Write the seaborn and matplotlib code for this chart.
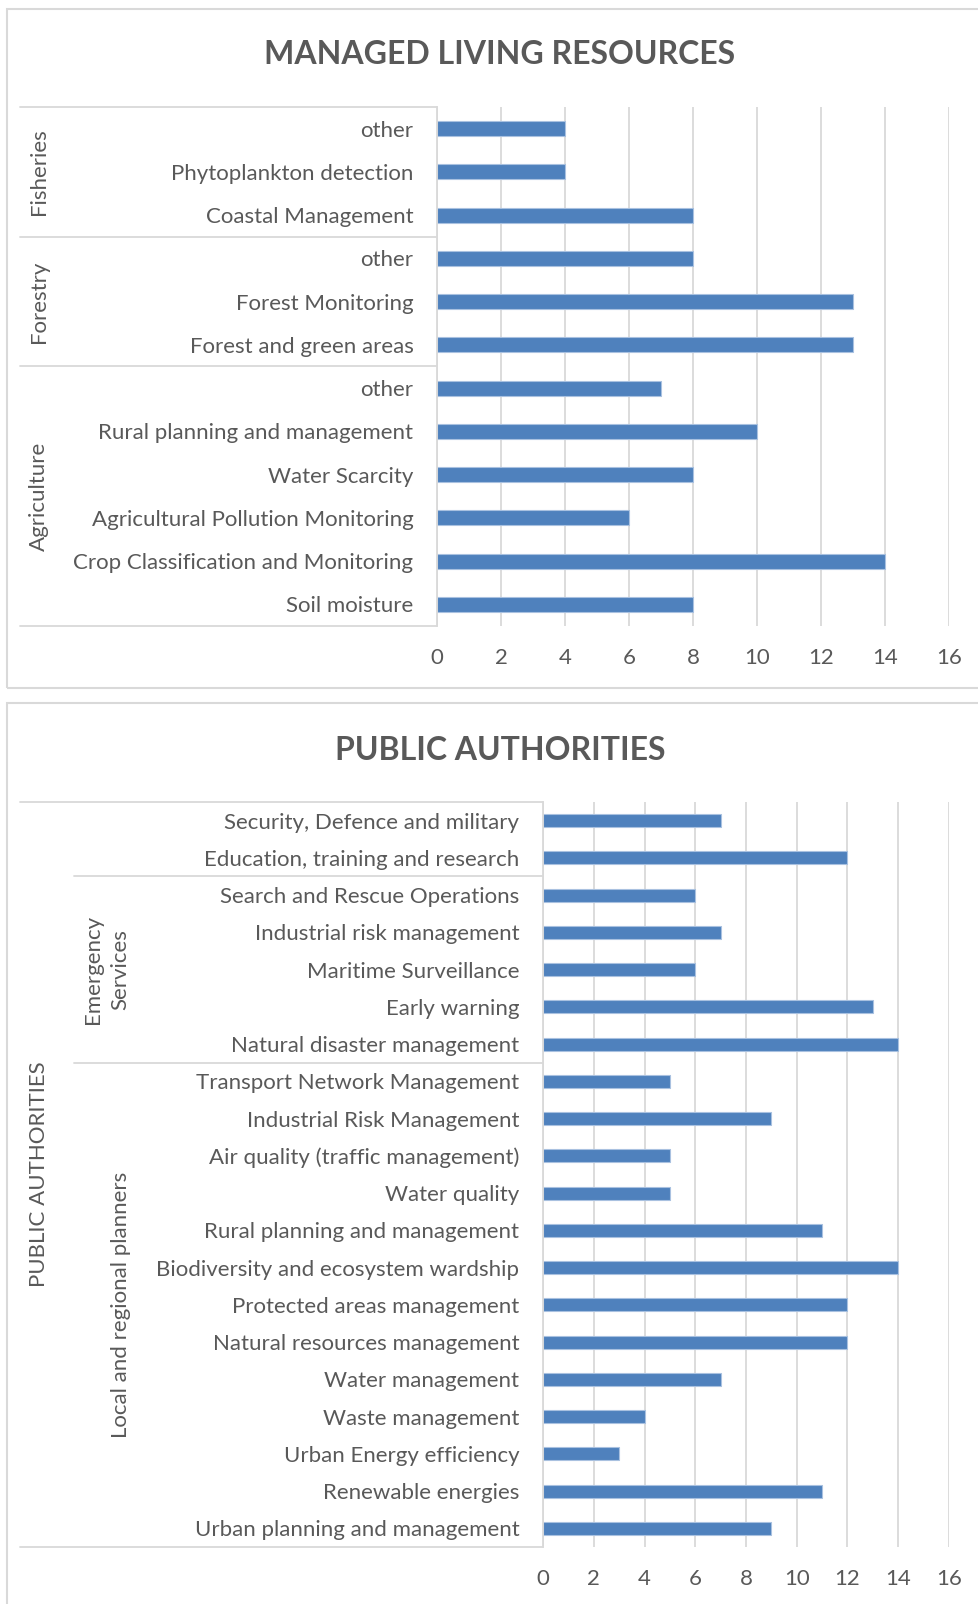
import seaborn as sns
import pandas as pd
import numpy as np
import matplotlib.pyplot as plt
from matplotlib.patches import Rectangle
from matplotlib.lines import Line2D
from matplotlib.transforms import blended_transform_factory

# managed living resources chart (top to bottom)
mlr_groups = ['Fisheries', 'Fisheries', 'Fisheries',
              'Forestry', 'Forestry', 'Forestry',
              'Agriculture', 'Agriculture', 'Agriculture',
              'Agriculture', 'Agriculture', 'Agriculture']
mlr_labels = ['other', 'Phytoplankton detection', 'Coastal Management',
              'other', 'Forest Monitoring', 'Forest and green areas',
              'other', 'Rural planning and management', 'Water Scarcity',
              'Agricultural Pollution Monitoring', 'Crop Classification and Monitoring',
              'Soil moisture']
mlr_values = [4, 4, 8, 8, 13, 13, 7, 10, 8, 6, 14, 8]

# public authorities chart (top to bottom)
pa_groups = ['', '',
             'Emergency\nServices', 'Emergency\nServices', 'Emergency\nServices',
             'Emergency\nServices', 'Emergency\nServices'] + ['Local and regional planners'] * 13
pa_labels = ['Security, Defence and military', 'Education, training and research',
             'Search and Rescue Operations', 'Industrial risk management',
             'Maritime Surveillance', 'Early warning', 'Natural disaster management',
             'Transport Network Management', 'Industrial Risk Management',
             'Air quality (traffic management)', 'Water quality',
             'Rural planning and management', 'Biodiversity and ecosystem wardship',
             'Protected areas management', 'Natural resources management',
             'Water management', 'Waste management', 'Urban Energy efficiency',
             'Renewable energies', 'Urban planning and management']
pa_values = [7, 12, 6, 7, 6, 13, 14, 5, 9, 5, 5, 11, 14, 12, 12, 7, 4, 3, 11, 9]

xticks = [0, 2, 4, 6, 8, 10, 12, 14, 16]

BLUE = '#4F81BD'
GREY = '#d9d9d9'
TXT = '#595959'

sns.set_theme(style='white')
plt.rcParams['font.family'] = ['Lato', 'DejaVu Sans']

W, H = 979, 1604
fig = plt.figure(figsize=(W / 100, H / 100), dpi=100)


def fx(px):
    return px / W


def fy(py):
    return 1 - py / H


# panel borders
fig.add_artist(Rectangle((fx(7.5), fy(688)), fx(990) - fx(7.5), fy(9) - fy(688),
                         transform=fig.transFigure, fill=False, edgecolor=GREY, lw=1.5))
fig.add_artist(Rectangle((fx(7.5), fy(1620)), fx(990) - fx(7.5), fy(703) - fy(1620),
                         transform=fig.transFigure, fill=False, edgecolor=GREY, lw=1.5))


def draw_bars(ax, groups, labels, values):
    keys = [f'{g}|{l}|{i}' for i, (g, l) in enumerate(zip(groups, labels))]
    df = pd.DataFrame({'key': keys, 'value': values})
    sns.barplot(data=df, x='value', y='key', orient='h', color=BLUE, saturation=1,
                width=0.35, edgecolor='#a9c1e0', linewidth=0.8, ax=ax)
    ax.set_xlim(0, 16)
    ax.set_xticks(xticks)
    ax.set_yticks(range(len(labels)))
    ax.set_yticklabels(labels)
    ax.set_ylim(len(labels) - 0.5, -0.5)
    ax.set_xlabel('')
    ax.set_ylabel('')
    ax.grid(axis='x', color=GREY, lw=1.3)
    ax.set_axisbelow(True)
    for s in ['top', 'right', 'bottom']:
        ax.spines[s].set_visible(False)
    ax.spines['left'].set_color(GREY)
    ax.spines['left'].set_linewidth(1.3)
    ax.tick_params(axis='y', length=0, pad=17, labelcolor=TXT, labelsize=16)
    ax.tick_params(axis='x', length=0, pad=16, labelcolor=TXT, labelsize=16)


def hline(ax, x0, x1, y):
    tr = blended_transform_factory(fig.transFigure, ax.transData)
    fig.add_artist(Line2D([fx(x0), fx(x1)], [y, y], transform=tr, color=GREY, lw=1.3))


def vlabel(ax, x, y, s, size=16):
    tr = blended_transform_factory(fig.transFigure, ax.transData)
    fig.text(fx(x), y, s, transform=tr, rotation=90, ha='center', va='center',
             color=TXT, fontsize=size, multialignment='center', linespacing=1.45)


# --- top chart ---
ax1 = fig.add_axes([fx(437), fy(626), fx(949) - fx(437), fy(107) - fy(626)])
draw_bars(ax1, mlr_groups, mlr_labels, mlr_values)
fig.text(fx(500), fy(55), 'MANAGED LIVING RESOURCES', ha='center', va='center',
         fontsize=23, fontweight='bold', color=TXT)

start = 0
for g in ['Fisheries', 'Forestry', 'Agriculture']:
    n = mlr_groups.count(g)
    hline(ax1, 20, 437, start - 0.5)
    vlabel(ax1, 39, start + (n - 1) / 2, g)
    start += n
hline(ax1, 20, 437, start - 0.5)

# --- bottom chart ---
ax2 = fig.add_axes([fx(543), fy(1547), fx(949) - fx(543), fy(802) - fy(1547)])
draw_bars(ax2, pa_groups, pa_labels, pa_values)
fig.text(fx(500), fy(750), 'PUBLIC AUTHORITIES', ha='center', va='center',
         fontsize=23, fontweight='bold', color=TXT)

n_pa = len(pa_labels)
hline(ax2, 20, 543, -0.5)
hline(ax2, 20, 543, n_pa - 0.5)
vlabel(ax2, 39, (n_pa - 1) / 2, 'PUBLIC AUTHORITIES')

start = pa_groups.count('')
for g in ['Emergency\nServices', 'Local and regional planners']:
    n = pa_groups.count(g)
    hline(ax2, 74, 543, start - 0.5)
    x = 107 if '\n' in g else 121
    vlabel(ax2, x, start + (n - 1) / 2, g)
    start += n

fig.savefig('out.png', dpi=100)
